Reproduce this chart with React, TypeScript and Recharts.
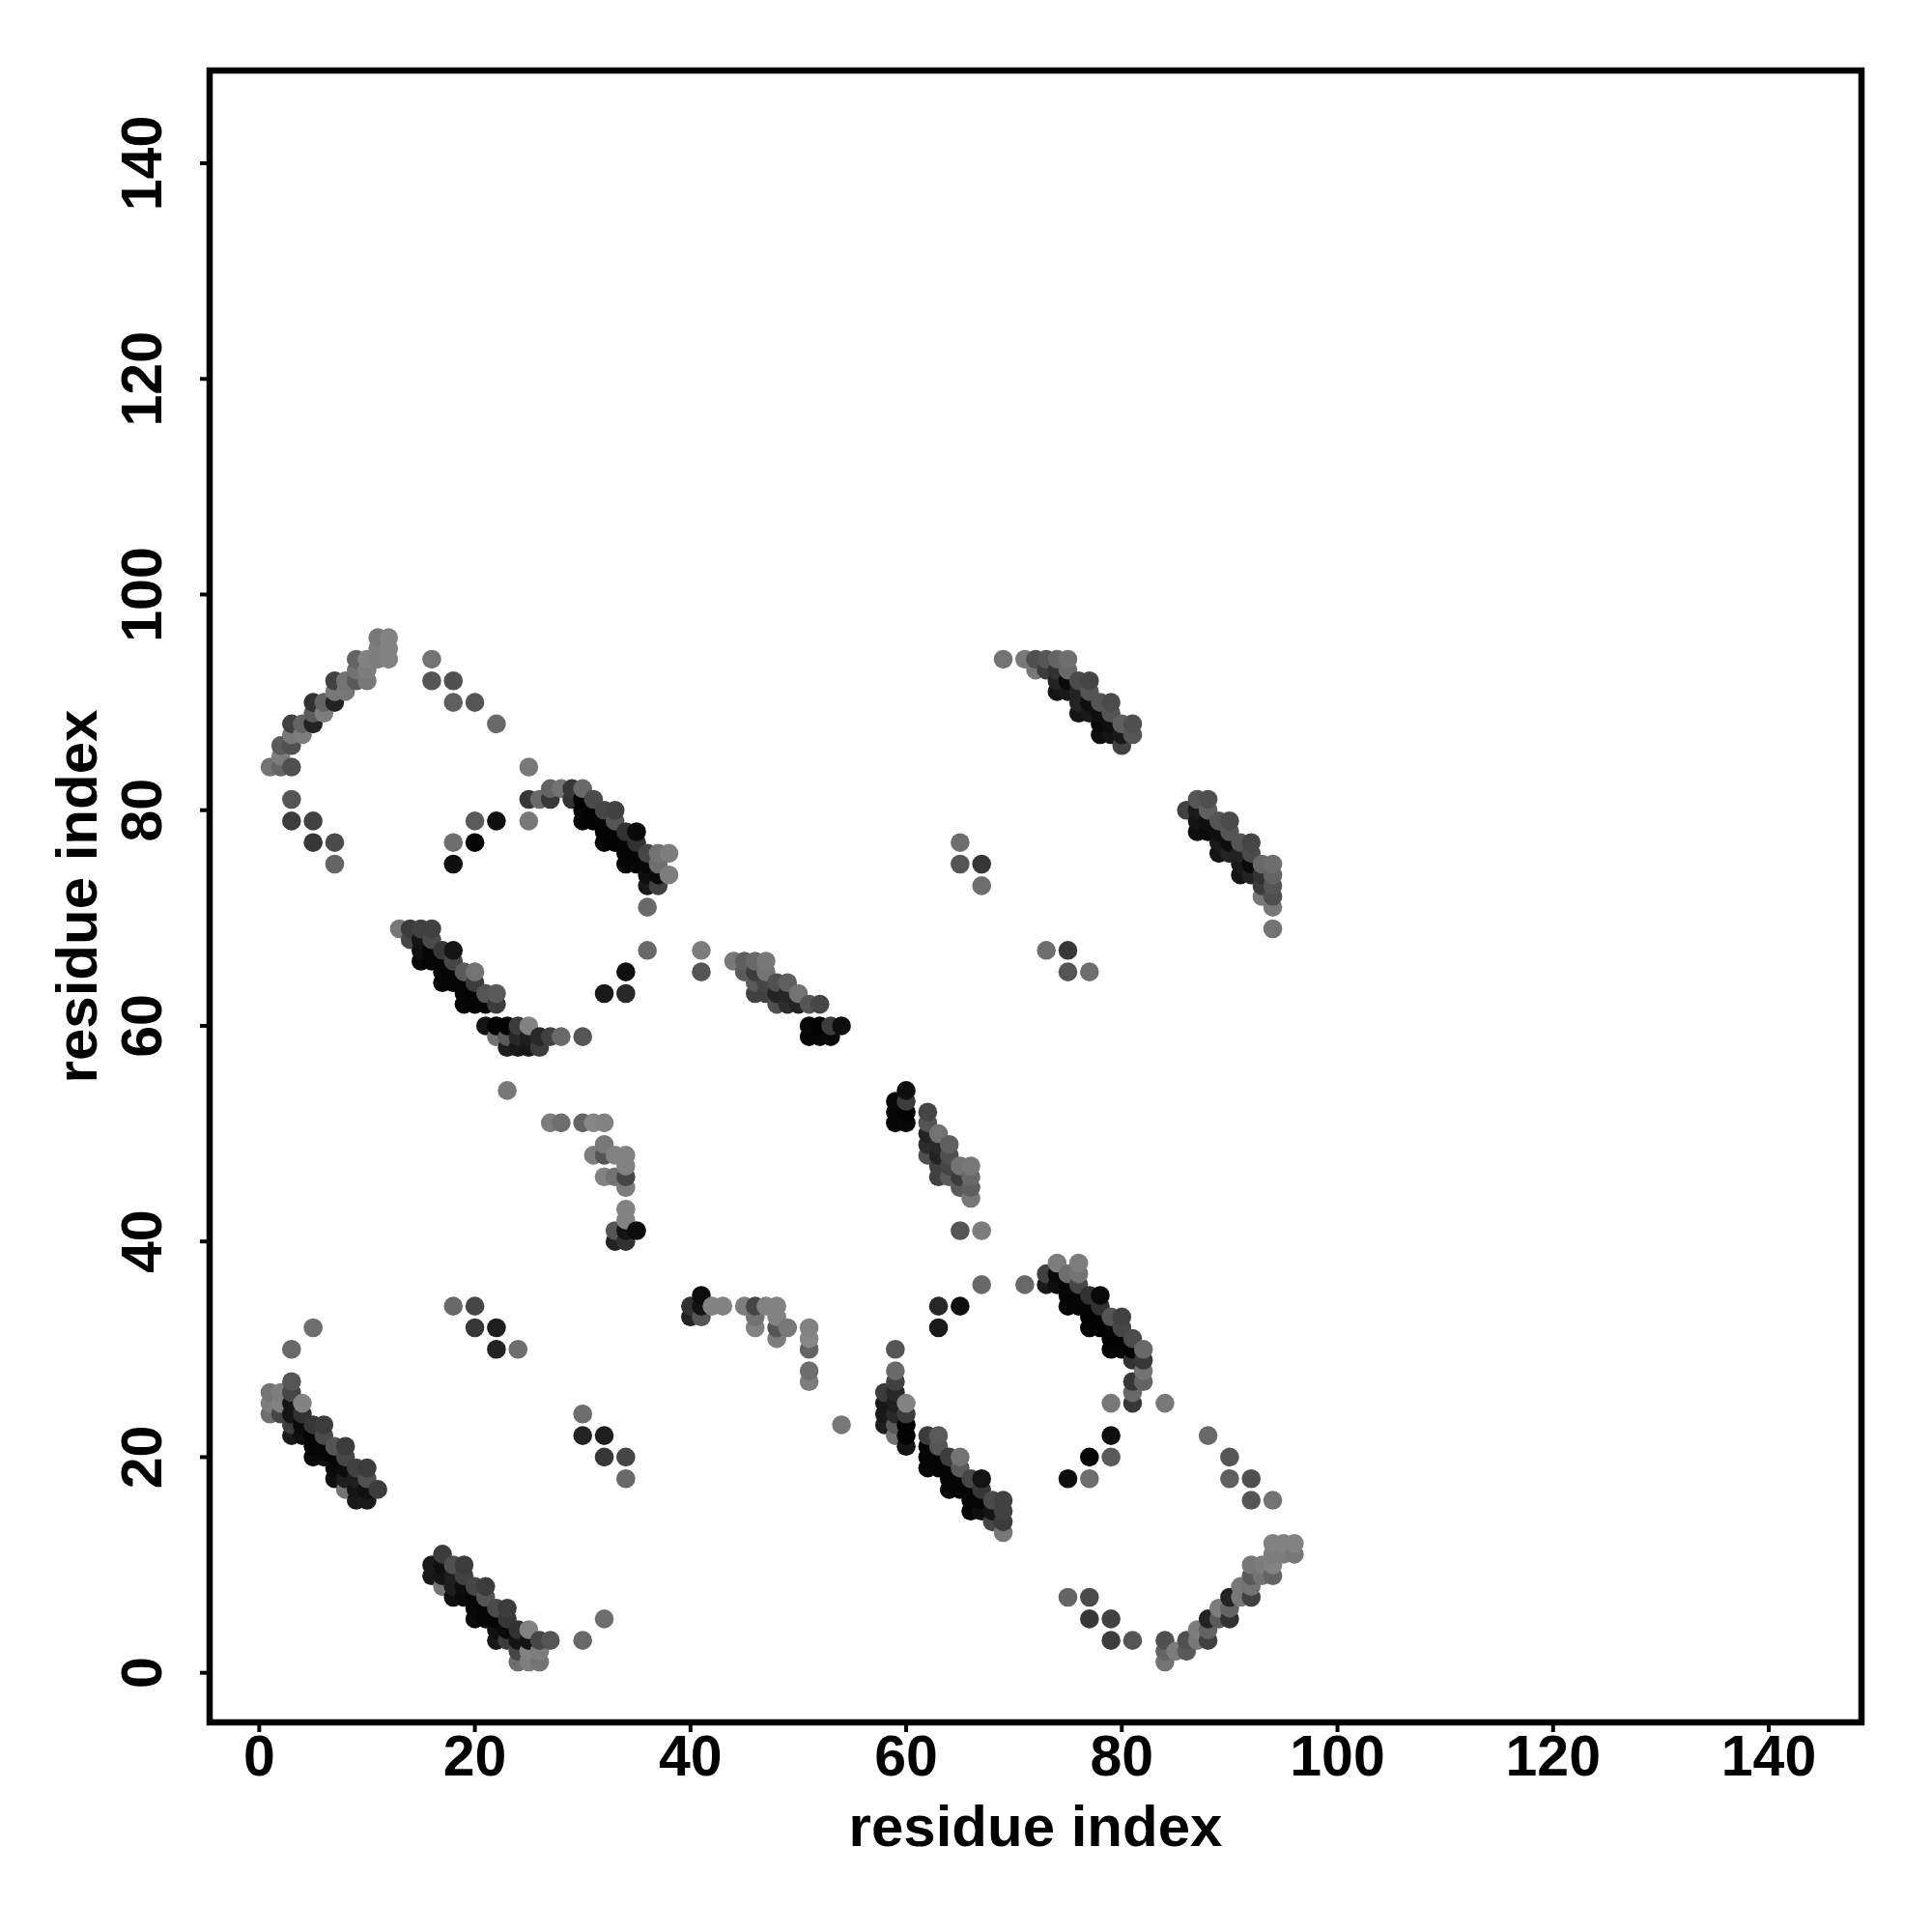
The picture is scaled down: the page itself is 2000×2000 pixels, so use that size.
import React from "react";
import { ScatterChart, Scatter, XAxis, YAxis, ReferenceArea } from "recharts";

// each contact is [higher residue, lower residue, grey level]; the map is symmetric
type Contact = [number, number, number];

const AXIS_TICKS = [0, 20, 40, 60, 80, 100, 120, 140];
const AXIS_TITLE = "residue index";
const AXIS_MIN = -4.6;
const AXIS_MAX = 148.6;

const strandA: Contact[] = [
  [16, 9, 25], [16, 10, 25], [17, 8, 115], [17, 9, 20], [17, 10, 15], [17, 11, 60],
  [18, 7, 15], [18, 8, 30], [18, 9, 30], [18, 10, 80], [19, 7, 10], [19, 8, 12],
  [19, 9, 65], [19, 10, 60], [20, 5, 10], [20, 6, 8], [20, 7, 5], [20, 8, 70],
  [21, 5, 5], [21, 6, 5], [21, 7, 85], [21, 8, 60], [22, 3, 25], [22, 4, 15],
  [22, 5, 5], [22, 6, 75], [23, 3, 60], [23, 4, 10], [23, 5, 55], [23, 6, 60],
  [24, 1, 110], [24, 2, 70], [24, 3, 20], [24, 4, 50], [25, 1, 125], [25, 2, 130],
  [25, 3, 20], [25, 4, 130], [26, 1, 115], [26, 2, 125], [26, 3, 70], [27, 3, 85],
];

const loopA: Contact[] = [
  [30, 3, 105], [32, 5, 110], [30, 22, 35], [30, 24, 110], [32, 20, 55], [32, 22, 30],
  [34, 18, 105], [34, 20, 70],
];

const strandB: Contact[] = [
  [40, 33, 35], [40, 34, 50], [41, 33, 85], [41, 34, 20], [41, 35, 12], [42, 34, 130],
  [43, 34, 130], [45, 34, 125], [46, 32, 130], [46, 33, 115], [46, 34, 70], [47, 34, 130],
  [48, 31, 125], [48, 32, 85], [48, 33, 130], [48, 34, 130], [49, 32, 120], [51, 27, 125],
  [51, 28, 110], [51, 30, 100], [51, 31, 135], [51, 32, 130], [54, 23, 120],
];

const strandC: Contact[] = [
  [58, 23, 30], [58, 24, 25], [58, 25, 25], [58, 26, 60], [59, 22, 115], [59, 23, 90],
  [59, 24, 40], [59, 25, 30], [59, 26, 40], [59, 27, 65], [59, 28, 105], [59, 30, 85],
  [60, 21, 20], [60, 22, 3], [60, 23, 3], [60, 24, 60], [60, 25, 130], [62, 19, 5],
  [62, 20, 5], [62, 21, 5], [62, 22, 60], [63, 19, 5], [63, 20, 5], [63, 21, 85],
  [63, 22, 90], [64, 17, 5], [64, 18, 5], [64, 19, 5], [64, 20, 60], [65, 17, 5],
  [65, 18, 5], [65, 19, 90], [65, 20, 115], [66, 15, 8], [66, 16, 5], [66, 17, 5],
  [66, 18, 70], [67, 15, 15], [67, 16, 5], [67, 17, 55], [67, 18, 20], [68, 14, 70],
  [68, 15, 20], [68, 16, 75], [69, 13, 120], [69, 14, 60], [69, 15, 65], [69, 16, 65],
];

const loopC: Contact[] = [
  [63, 32, 25], [63, 34, 40], [65, 34, 15], [67, 36, 105], [71, 36, 105],
  [65, 41, 85], [67, 41, 125],
];

const strandD: Contact[] = [
  [73, 36, 25], [73, 37, 65], [74, 36, 15], [74, 37, 10], [74, 38, 125], [75, 34, 5],
  [75, 35, 5], [75, 36, 8], [75, 37, 110], [76, 34, 5], [76, 35, 5], [76, 36, 70],
  [76, 37, 115], [76, 38, 125], [77, 32, 5], [77, 33, 3], [77, 34, 5], [77, 35, 50],
  [78, 32, 3], [78, 33, 3], [78, 34, 50], [78, 35, 10], [79, 30, 5], [79, 31, 3],
  [79, 32, 5], [79, 33, 85], [80, 30, 5], [80, 31, 3], [80, 32, 70], [80, 33, 65],
  [81, 25, 55], [81, 26, 105], [81, 27, 55], [81, 29, 50], [81, 30, 3], [81, 31, 75],
  [82, 27, 100], [82, 28, 115], [82, 29, 55], [82, 30, 105], [79, 25, 120], [84, 25, 120],
];

const loopD: Contact[] = [
  [75, 18, 15], [77, 18, 110], [77, 20, 5], [79, 20, 90], [79, 22, 15],
  [88, 22, 105], [90, 20, 85], [90, 18, 95], [92, 18, 80], [92, 16, 85], [94, 16, 115],
];

const strandE: Contact[] = [
  [75, 7, 100], [77, 7, 75], [77, 5, 55], [79, 5, 65], [79, 3, 60], [81, 3, 85],
  [84, 1, 115], [84, 2, 100], [84, 3, 80], [85, 2, 125], [86, 2, 90], [86, 3, 80],
  [87, 3, 120], [87, 4, 125], [88, 3, 65], [88, 4, 100], [88, 5, 35], [89, 5, 90],
  [89, 6, 125], [90, 5, 50], [90, 6, 100], [90, 7, 35], [91, 7, 120], [91, 8, 120],
  [92, 7, 65], [92, 8, 115], [92, 9, 90], [92, 10, 120], [93, 9, 115], [93, 10, 125],
  [94, 9, 100], [94, 10, 130], [94, 11, 125], [94, 12, 130], [95, 11, 125], [95, 12, 130],
  [96, 11, 120], [96, 12, 130],
];

const strandF: Contact[] = [
  [66, 44, 120], [66, 45, 95], [66, 46, 105], [66, 47, 120], [65, 45, 90],
  [65, 46, 60], [65, 47, 115], [64, 46, 90], [64, 47, 70], [64, 48, 80], [64, 49, 95],
  [63, 46, 65], [63, 47, 65], [63, 48, 35], [63, 49, 40], [63, 50, 115], [62, 48, 80],
  [62, 49, 45], [62, 50, 35], [62, 51, 85], [62, 52, 70], [60, 51, 8], [60, 52, 3],
  [60, 53, 60], [60, 54, 15], [59, 51, 5], [59, 52, 5], [59, 53, 8],
];

const strandG: Contact[] = [
  [94, 69, 115], [94, 71, 120], [94, 72, 80], [94, 73, 85], [94, 74, 100], [94, 75, 110],
  [93, 72, 120], [93, 73, 60], [93, 74, 50], [93, 75, 105], [92, 74, 35], [92, 75, 10],
  [92, 76, 75], [92, 77, 70], [91, 74, 20], [91, 75, 25], [91, 76, 35], [91, 77, 85],
  [90, 76, 35], [90, 77, 15], [90, 78, 85], [90, 79, 75], [89, 76, 20], [89, 77, 25],
  [89, 78, 15], [89, 79, 85], [88, 78, 10], [88, 79, 15], [88, 80, 95], [88, 81, 80],
  [87, 78, 15], [87, 79, 20], [87, 80, 25], [87, 81, 85], [86, 80, 65],
];

const loopG: Contact[] = [
  [73, 67, 110], [75, 67, 55], [75, 65, 85], [77, 65, 110],
];

const upper: Contact[] = [
  ...strandA, ...loopA, ...strandB, ...strandC, ...loopC, ...strandD,
  ...loopD, ...strandE, ...strandF, ...strandG, ...loopG,
];

const points = upper
  .flatMap(([hi, lo, level]) => [
    { x: hi, y: lo, level },
    { x: lo, y: hi, level },
  ])
  .sort((a, b) => a.x - b.x || a.y - b.y);

const FONT = "'Liberation Sans', Arial, sans-serif";

function Dot(props: any) {
  const g = props.payload.level;
  return <circle cx={props.cx} cy={props.cy} r={9.8} fill={`rgb(${g},${g},${g})`} />;
}

function XTick({ x, y, payload }: any) {
  return (
    <text x={x} y={y + 43} textAnchor="middle" fontFamily={FONT} fontWeight="bold" fontSize={59} fill="#000">
      {payload.value}
    </text>
  );
}

function YTick({ x, y, payload }: any) {
  const bx = x - 38;
  return (
    <text x={bx} y={y} transform={`rotate(-90 ${bx} ${y})`} textAnchor="middle" fontFamily={FONT} fontWeight="bold" fontSize={59} fill="#000">
      {payload.value}
    </text>
  );
}

export default function App() {
  return (
    <div style={{ position: "absolute", left: 0, top: 0, width: 2000, height: 2000, background: "#fff" }}>
      <ScatterChart width={2000} height={2000} margin={{ top: 73, right: 73, bottom: 117, left: 137 }}>
        <XAxis
          type="number"
          dataKey="x"
          domain={[AXIS_MIN, AXIS_MAX]}
          ticks={AXIS_TICKS}
          interval={0}
          height={100}
          axisLine={false}
          tickSize={10}
          tickLine={{ stroke: "#000", strokeWidth: 4 }}
          tick={<XTick />}
          allowDataOverflow
        />
        <YAxis
          type="number"
          dataKey="y"
          domain={[AXIS_MIN, AXIS_MAX]}
          ticks={AXIS_TICKS}
          interval={0}
          width={80}
          axisLine={false}
          tickSize={10}
          tickLine={{ stroke: "#000", strokeWidth: 4 }}
          tick={<YTick />}
          allowDataOverflow
        />
        <Scatter data={points} shape={Dot} isAnimationActive={false} />
        <ReferenceArea
          x1={AXIS_MIN}
          x2={AXIS_MAX}
          y1={AXIS_MIN}
          y2={AXIS_MAX}
          fill="none"
          stroke="#000"
          strokeWidth={6.5}
          ifOverflow="visible"
        />
        <text x={1072} y={1911} textAnchor="middle" fontFamily={FONT} fontWeight="bold" fontSize={60} fill="#000">
          {AXIS_TITLE}
        </text>
        <text x={100} y={928} transform="rotate(-90 100 928)" textAnchor="middle" fontFamily={FONT} fontWeight="bold" fontSize={60} fill="#000">
          {AXIS_TITLE}
        </text>
      </ScatterChart>
    </div>
  );
}
